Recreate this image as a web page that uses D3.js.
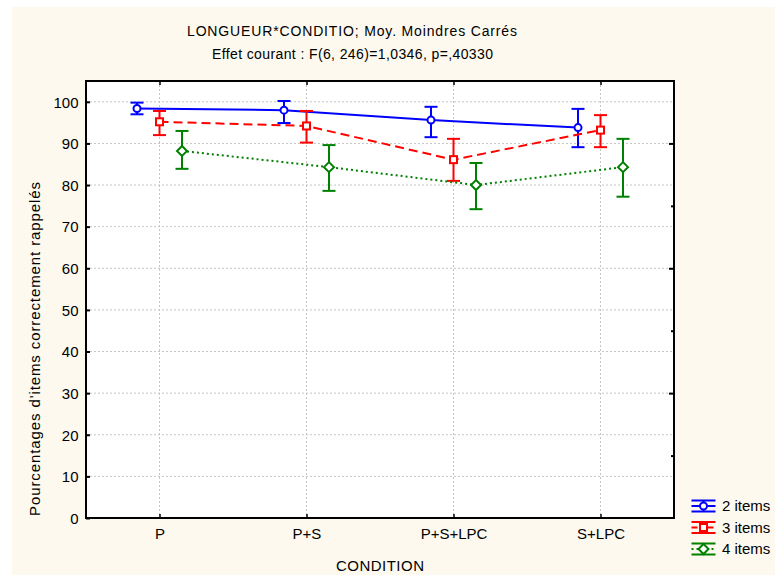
<!DOCTYPE html>
<html><head><meta charset="utf-8">
<script src="https://cdn.jsdelivr.net/npm/d3@7"></script>
<style>body{margin:0;background:#fff}svg{display:block}text{font-family:"Liberation Sans",Arial,sans-serif;fill:#000}</style>
</head><body>
<script>
const categories = ["P","P+S","P+S+LPC","S+LPC"];
const seriesNames = ["2 items","3 items","4 items"];
const means2 = [98.4, 98.0, 95.6, 93.8];
const low2   = [97.0, 94.9, 91.5, 89.1];
const high2  = [99.8, 100.2, 98.8, 98.3];
const means3 = [95.2, 94.2, 86.1, 93.2];
const low3   = [92.0, 90.2, 81.0, 89.1];
const high3  = [97.8, 97.8, 91.1, 96.8];
const means4 = [88.2, 84.3, 80.0, 84.3];
const low4   = [83.9, 78.6, 74.2, 77.2];
const high4  = [93.0, 89.6, 85.3, 91.1];
const yTicks = [0,10,20,30,40,50,60,70,80,90,100];
const rightTicks = [15,30,45,60,75,90];
const titleText = "LONGUEUR*CONDITIO; Moy. Moindres Carrés";
const subtitleText = "Effet courant : F(6, 246)=1,0346, p=,40330";
const xLabel = "CONDITION";
const yLabel = "Pourcentages d'items correctement rappelés";

const series = [
  {name: seriesNames[0], mean: means2, low: low2, high: high2, color: "#0000ff", dash: null, marker: "circle"},
  {name: seriesNames[1], mean: means3, low: low3, high: high3, color: "#ff0000", dash: "9,5", marker: "square"},
  {name: seriesNames[2], mean: means4, low: low4, high: high4, color: "#008000", dash: "2,3", marker: "diamond"}
];

const W = 776, H = 576;
const L = 86, R = 674, T = 81, B = 518;
const svg = d3.select("body").append("svg").attr("width", W).attr("height", H);
svg.append("rect").attr("x", 12).attr("y", 7).attr("width", 763).attr("height", 568).attr("fill", "#fdf9ee");
svg.append("rect").attr("x", L).attr("y", T).attr("width", R - L).attr("height", B - T).attr("fill", "#fff");

const x = d3.scalePoint().domain(categories).range([L, R]).padding(0.5);
const off = d3.scalePoint().domain(seriesNames).range([-22.5, 22.5]);
const y = d3.scaleLinear().domain([0, 105]).range([B, T]);

// grid
const g = svg.append("g");
g.selectAll("line.gy").data(yTicks.filter(v => v > 0)).join("line")
  .attr("x1", L).attr("x2", R).attr("y1", d => y(d)).attr("y2", d => y(d))
  .attr("stroke", "#c4c4c4").attr("stroke-width", 1).attr("stroke-dasharray", "2,2");
g.selectAll("line.gx").data(categories).join("line")
  .attr("x1", d => x(d)).attr("x2", d => x(d)).attr("y1", T).attr("y2", B)
  .attr("stroke", "#c4c4c4").attr("stroke-width", 1).attr("stroke-dasharray", "2,2");

// axes
const yAxis = d3.axisLeft(y).tickValues(yTicks).tickSize(-4).tickPadding(7.5).tickFormat(d3.format("d"));
const ya = svg.append("g").attr("transform", `translate(${L},0)`).call(yAxis);
ya.select(".domain").remove();
ya.selectAll("line").attr("stroke", "#000").attr("stroke-width", 2);
ya.selectAll("text").style("font-size", "15px").attr("dy", "0.35em");

const yr = svg.append("g").attr("transform", `translate(${R},0)`)
  .call(d3.axisRight(y).tickValues(rightTicks).tickSize(0).tickFormat(""));
yr.select(".domain").remove();
yr.selectAll(".tick").append("line").attr("x1", d => d % 30 === 0 ? -5 : -3).attr("x2", 0)
  .attr("stroke", "#000").attr("stroke-width", 2);

const xAxis = d3.axisBottom(x).tickSize(-4).tickPadding(10);
const xa = svg.append("g").attr("transform", `translate(0,${B})`).call(xAxis);
xa.select(".domain").remove();
xa.selectAll("line").attr("stroke", "#000").attr("stroke-width", 1.5);
xa.selectAll("text").style("font-size", "15px");

const xt = svg.append("g").attr("transform", `translate(0,${T})`).call(d3.axisTop(x).tickSize(-4).tickFormat(""));
xt.select(".domain").remove();
xt.selectAll("line").attr("stroke", "#000").attr("stroke-width", 1.5);

svg.append("rect").attr("x", L).attr("y", T).attr("width", R - L).attr("height", B - T)
  .attr("fill", "none").attr("stroke", "#000").attr("stroke-width", 2);

// titles
svg.append("text").attr("x", 352).attr("y", 36).attr("text-anchor", "middle").style("font-size", "14px")
  .attr("textLength", 330).attr("lengthAdjust", "spacing").text(titleText);
svg.append("text").attr("x", 352.5).attr("y", 59).attr("text-anchor", "middle").style("font-size", "14px")
  .attr("textLength", 281).attr("lengthAdjust", "spacing").text(subtitleText);
svg.append("text").attr("x", 380).attr("y", 571).attr("text-anchor", "middle").style("font-size", "15px")
  .attr("textLength", 88).attr("lengthAdjust", "spacing").text(xLabel);
svg.append("text").attr("transform", `translate(40,349) rotate(-90)`).attr("text-anchor", "middle").style("font-size", "15px")
  .attr("textLength", 334).attr("lengthAdjust", "spacing").text(yLabel);

function drawMarker(sel, type, color) {
  if (type === "circle") sel.append("circle").attr("r", 3.5);
  else if (type === "square") sel.append("rect").attr("x", -3.5).attr("y", -3.5).attr("width", 7).attr("height", 7);
  else sel.append("path").attr("d", "M0,-5L5,0L0,5L-5,0Z");
  sel.selectAll("circle,rect,path").attr("fill", "#fff").attr("stroke", color).attr("stroke-width", 2);
}

const capW = 6.5;
series.forEach(s => {
  const px = (i) => x(categories[i]) + off(s.name);
  const line = d3.line().x((d, i) => px(i)).y(d => y(d));
  svg.append("path").datum(s.mean).attr("d", line).attr("fill", "none")
    .attr("stroke", s.color).attr("stroke-width", 2).attr("stroke-dasharray", s.dash);
  const gs = svg.append("g");
  s.mean.forEach((m, i) => {
    const cx = px(i);
    gs.append("line").attr("x1", cx).attr("x2", cx).attr("y1", y(s.low[i])).attr("y2", y(s.high[i])).attr("stroke", s.color).attr("stroke-width", 2);
    gs.append("line").attr("x1", cx - capW).attr("x2", cx + capW).attr("y1", y(s.low[i])).attr("y2", y(s.low[i])).attr("stroke", s.color).attr("stroke-width", 2);
    gs.append("line").attr("x1", cx - capW).attr("x2", cx + capW).attr("y1", y(s.high[i])).attr("y2", y(s.high[i])).attr("stroke", s.color).attr("stroke-width", 2);
    const mk = gs.append("g").attr("transform", `translate(${cx},${y(m)})`);
    drawMarker(mk, s.marker, s.color);
  });
});

// legend
const legY = d3.scalePoint().domain(seriesNames).range([506, 549]);
series.forEach(s => {
  const cy = legY(s.name), cx = 703.5;
  const lg = svg.append("g");
  lg.append("line").attr("x1", cx - 12).attr("x2", cx + 12).attr("y1", cy - 5.5).attr("y2", cy - 5.5).attr("stroke", s.color).attr("stroke-width", 2);
  lg.append("line").attr("x1", cx - 12).attr("x2", cx + 12).attr("y1", cy + 5.5).attr("y2", cy + 5.5).attr("stroke", s.color).attr("stroke-width", 2);
  lg.append("line").attr("x1", cx).attr("x2", cx).attr("y1", cy - 5.5).attr("y2", cy + 5.5).attr("stroke", s.color).attr("stroke-width", 2);
  lg.append("line").attr("x1", cx - 12).attr("x2", cx + 12).attr("y1", cy).attr("y2", cy).attr("stroke", s.color).attr("stroke-width", 2).attr("stroke-dasharray", s.dash ? (s.dash === "9,5" ? "6,2" : "2,3") : null);
  const mk = lg.append("g").attr("transform", `translate(${cx},${cy})`);
  drawMarker(mk, s.marker, s.color);
  lg.append("text").attr("x", 722).attr("y", cy + 5).style("font-size", "15px").text(s.name);
});
</script>
</body></html>
